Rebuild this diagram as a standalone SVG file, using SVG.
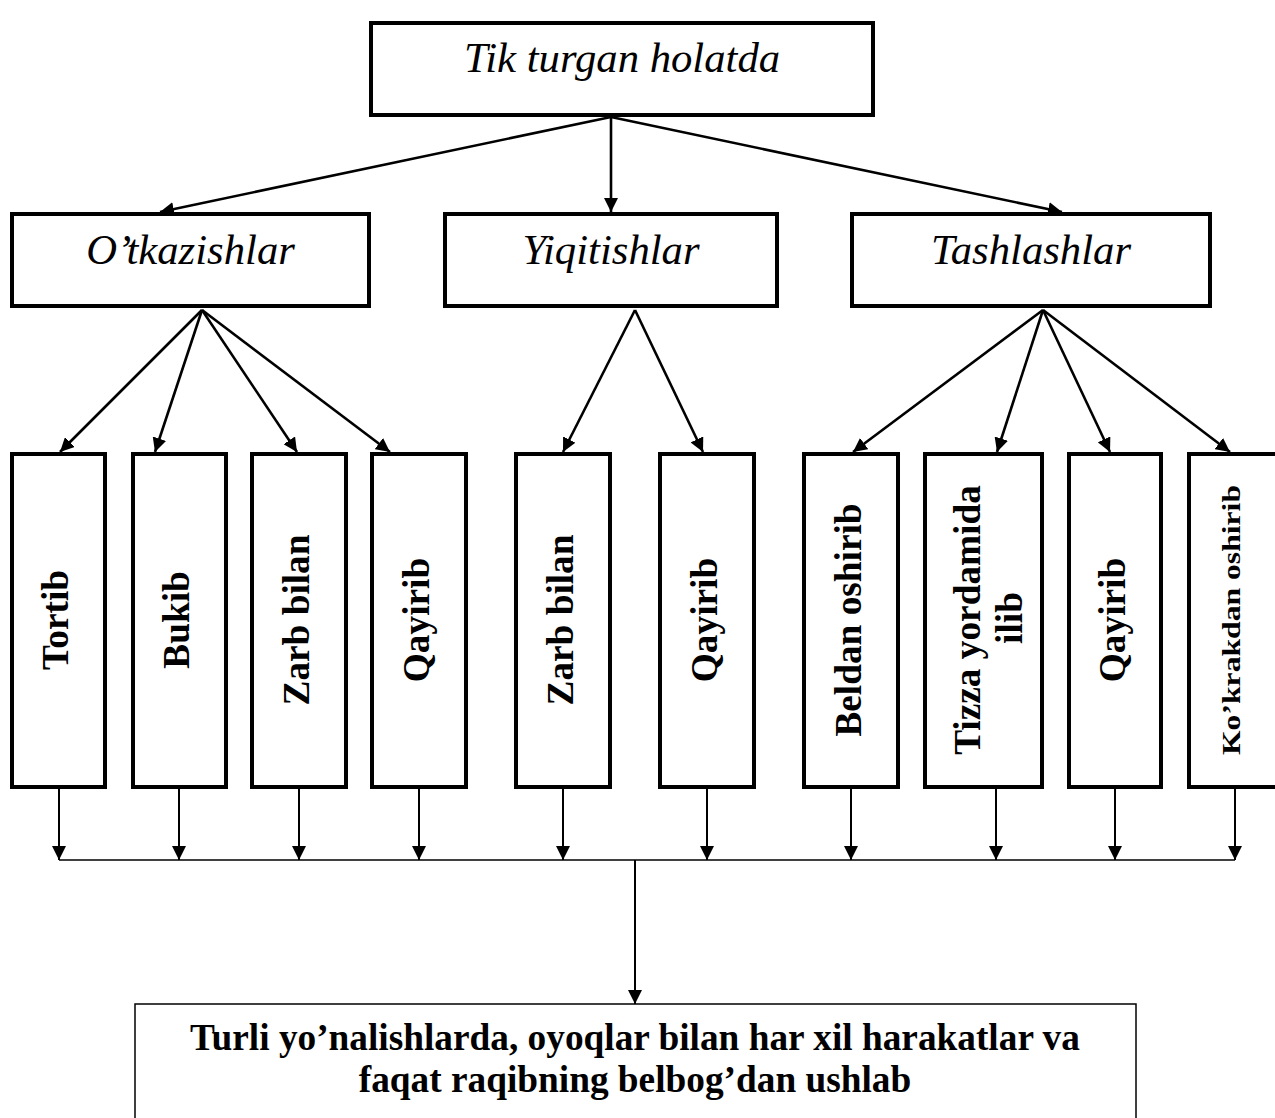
<svg xmlns="http://www.w3.org/2000/svg" width="1275" height="1118" viewBox="0 0 1275 1118">
<style>
.box{fill:#fff;stroke:#000;stroke-width:4}
.thin{fill:#fff;stroke:#000;stroke-width:1.5}
.it{font-family:"Liberation Serif","Times New Roman",serif;font-style:italic;font-size:42.7px;fill:#000;text-anchor:middle}
.bd{font-family:"Liberation Serif","Times New Roman",serif;font-weight:bold;font-size:37.3px;fill:#000;text-anchor:middle}
.ln{stroke:#000;stroke-width:2;fill:none}
.dl{stroke:#000;stroke-width:2.6;fill:none}
.hl{stroke:#000;stroke-width:1.5;fill:none}
</style>
<defs>
<marker id="ah" viewBox="0 0 14 14" refX="14" refY="7" markerWidth="14" markerHeight="14" markerUnits="userSpaceOnUse" orient="auto">
<path d="M0,0 L14,7 L0,14 z" fill="#000"/>
</marker>
</defs>
<rect width="1275" height="1118" fill="#fff"/>

<g id="connectors">
<line class="dl" x1="611" y1="117" x2="160" y2="212" marker-end="url(#ah)"/>
<line class="dl" x1="611" y1="117" x2="611" y2="212" marker-end="url(#ah)"/>
<line class="dl" x1="611" y1="117" x2="1062" y2="212" marker-end="url(#ah)"/>

<line class="dl" x1="202" y1="310" x2="60" y2="452" marker-end="url(#ah)"/>
<line class="dl" x1="202" y1="310" x2="155" y2="452" marker-end="url(#ah)"/>
<line class="dl" x1="202" y1="310" x2="297" y2="452" marker-end="url(#ah)"/>
<line class="dl" x1="202" y1="310" x2="390" y2="452" marker-end="url(#ah)"/>

<line class="dl" x1="635" y1="310" x2="563" y2="452" marker-end="url(#ah)"/>
<line class="dl" x1="635" y1="310" x2="703" y2="452" marker-end="url(#ah)"/>

<line class="dl" x1="1043" y1="310" x2="853" y2="452" marker-end="url(#ah)"/>
<line class="dl" x1="1043" y1="310" x2="997" y2="452" marker-end="url(#ah)"/>
<line class="dl" x1="1043" y1="310" x2="1110" y2="452" marker-end="url(#ah)"/>
<line class="dl" x1="1043" y1="310" x2="1230" y2="452" marker-end="url(#ah)"/>

<line class="ln" x1="59" y1="789" x2="59" y2="860" marker-end="url(#ah)"/>
<line class="ln" x1="179" y1="789" x2="179" y2="860" marker-end="url(#ah)"/>
<line class="ln" x1="299" y1="789" x2="299" y2="860" marker-end="url(#ah)"/>
<line class="ln" x1="419" y1="789" x2="419" y2="860" marker-end="url(#ah)"/>
<line class="ln" x1="563" y1="789" x2="563" y2="860" marker-end="url(#ah)"/>
<line class="ln" x1="707" y1="789" x2="707" y2="860" marker-end="url(#ah)"/>
<line class="ln" x1="851" y1="789" x2="851" y2="860" marker-end="url(#ah)"/>
<line class="ln" x1="996" y1="789" x2="996" y2="860" marker-end="url(#ah)"/>
<line class="ln" x1="1115" y1="789" x2="1115" y2="860" marker-end="url(#ah)"/>
<line class="ln" x1="1235" y1="789" x2="1235" y2="860" marker-end="url(#ah)"/>

<line class="hl" x1="59" y1="860" x2="1235" y2="860"/>
<line class="ln" x1="635" y1="860" x2="635" y2="1004" marker-end="url(#ah)"/>
</g>

<g id="node-top">
<rect class="box" x="371" y="23" width="502" height="92"/>
<text class="it" x="622" y="72">Tik turgan holatda</text>
</g>

<g id="node-otkazishlar">
<rect class="box" x="12" y="214" width="357" height="92"/>
<text class="it" x="190.5" y="264">O’tkazishlar</text>
</g>
<g id="node-yiqitishlar">
<rect class="box" x="445" y="214" width="332" height="92"/>
<text class="it" x="611" y="264">Yiqitishlar</text>
</g>
<g id="node-tashlashlar">
<rect class="box" x="852" y="214" width="358" height="92"/>
<text class="it" x="1031" y="264">Tashlashlar</text>
</g>

<g id="node-tortib">
<rect class="box" x="12" y="454" width="93" height="333"/>
<text class="bd" transform="translate(68,620) rotate(-90)">Tortib</text>
</g>
<g id="node-bukib">
<rect class="box" x="133" y="454" width="93" height="333"/>
<text class="bd" transform="translate(189,620) rotate(-90)">Bukib</text>
</g>
<g id="node-zarb1">
<rect class="box" x="252" y="454" width="94" height="333"/>
<text class="bd" transform="translate(308.5,620) rotate(-90)">Zarb bilan</text>
</g>
<g id="node-qayirib1">
<rect class="box" x="372" y="454" width="94" height="333"/>
<text class="bd" transform="translate(428.5,620) rotate(-90)">Qayirib</text>
</g>
<g id="node-zarb2">
<rect class="box" x="516" y="454" width="94" height="333"/>
<text class="bd" transform="translate(572.5,620) rotate(-90)">Zarb bilan</text>
</g>
<g id="node-qayirib2">
<rect class="box" x="660" y="454" width="94" height="333"/>
<text class="bd" transform="translate(716.5,620) rotate(-90)">Qayirib</text>
</g>
<g id="node-beldan">
<rect class="box" x="804" y="454" width="94" height="333"/>
<text class="bd" transform="translate(860.5,620) rotate(-90)">Beldan oshirib</text>
</g>
<g id="node-tizza">
<rect class="box" x="925" y="454" width="117" height="333"/>
<text class="bd" transform="translate(980,620) rotate(-90)">Tizza yordamida</text>
<text class="bd" transform="translate(1022,618) rotate(-90)">ilib</text>
</g>
<g id="node-qayirib3">
<rect class="box" x="1069" y="454" width="92" height="333"/>
<text class="bd" transform="translate(1124.5,620) rotate(-90)">Qayirib</text>
</g>
<g id="node-kokrakdan">
<rect class="box" x="1189" y="454" width="120" height="333"/>
<text class="bd" style="font-size:25px" textLength="270" lengthAdjust="spacingAndGlyphs" transform="translate(1240,620) rotate(-90)">Ko’krakdan oshirib</text>
</g>

<g id="node-bottom">
<rect class="thin" x="135" y="1004" width="1001" height="200"/>
<text class="bd" x="635" y="1050">Turli yo’nalishlarda, oyoqlar bilan har xil harakatlar va</text>
<text class="bd" x="635" y="1092">faqat raqibning belbog’dan ushlab</text>
</g>
</svg>
